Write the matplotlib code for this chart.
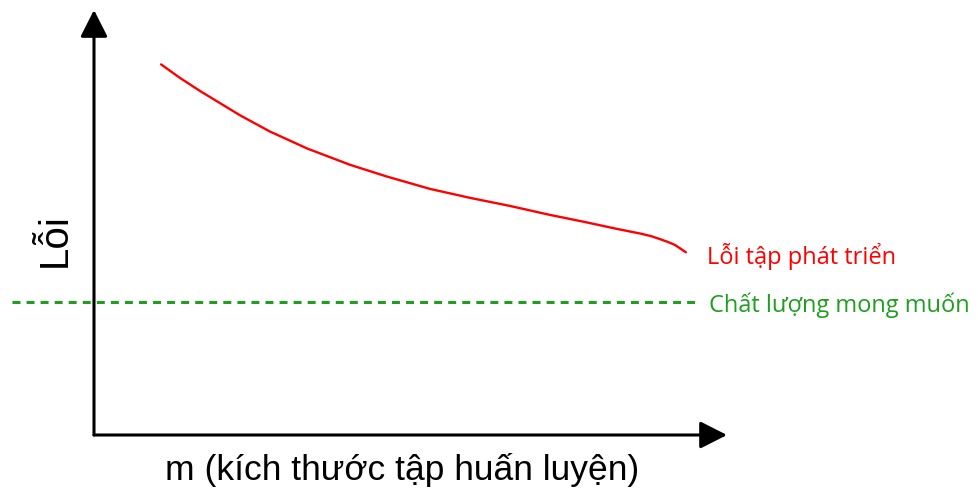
import matplotlib
matplotlib.use("Agg")
import matplotlib.pyplot as plt

# training set size (arbitrary units) vs dev-set error
train_size = [10.6, 13.6, 16.8, 20.0, 23.1, 27.8, 33.7, 40.4, 46.3, 53.1, 59.4, 65.7,
              72.0, 77.6, 82.6, 86.3, 88.0, 89.4, 90.7, 91.8, 93.5]
dev_error = [87.2, 84.0, 80.9, 78.0, 75.2, 71.4, 67.4, 63.6, 60.8, 57.9, 55.8, 53.9,
             51.8, 50.1, 48.5, 47.4, 46.8, 46.1, 45.4, 44.7, 43.0]
desired_level = 31.2
dash_x = [-13.0, 95.3]

W, H = 979, 493
fig = plt.figure(figsize=(W / 100, H / 100), dpi=100)
ax = fig.add_axes([94 / W, (H - 435) / H, (727 - 94) / W, (435 - 10) / H])
ax.set_xlim(0, 100)
ax.set_ylim(0, 100)
ax.axis("off")

# axes with arrow heads
arrow = dict(arrowstyle="-|>,head_width=0.38,head_length=0.75", color="black",
             lw=2.2, mutation_scale=22, shrinkA=0, shrinkB=0)
ax.annotate("", xy=(0, 1), xytext=(0, 0), xycoords="axes fraction",
            arrowprops=arrow, annotation_clip=False)
ax.annotate("", xy=(1, 0), xytext=(0, 0), xycoords="axes fraction",
            arrowprops=arrow, annotation_clip=False)

ax.plot(train_size, dev_error, color="#ff0000", lw=1.7, solid_capstyle="round",
        solid_joinstyle="round")
ax.plot(dash_x, [desired_level] * 2, color="#1f9e1f", lw=2.2,
        dashes=(2.6, 2.0), clip_on=False)

lbl_font = ["Open Sans", "DejaVu Sans"]
ax.text(96.8, 41.9, "Lỗi tập phát triển", color="#ff0000", fontsize=17,
        family=lbl_font, va="center", ha="left", clip_on=False)
ax.text(97.1, desired_level - 0.6, "Chất lượng mong muốn", color="#1f9e1f",
        fontsize=17, family=lbl_font, va="center", ha="left", clip_on=False)

fig.text(55 / W, 1 - 240 / H, "Lỗi", rotation=90, fontsize=29,
         family="Liberation Sans", ha="center", va="center")
fig.text(402 / W, 1 - 470 / H, "m (kích thước tập huấn luyện)", fontsize=25.5,
         family="Liberation Sans", ha="center", va="center")

fig.savefig("out.png", dpi=100)
